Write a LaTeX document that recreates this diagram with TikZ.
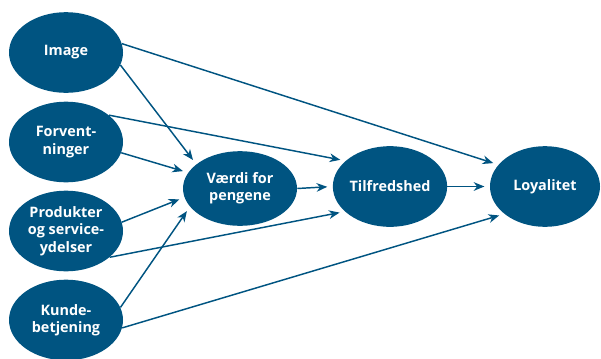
\documentclass[tikz,border=0pt]{standalone}
\usepackage{fontspec}
\setmainfont{Open Sans}
\usetikzlibrary{arrows.meta, shapes.geometric}
\definecolor{dkblue}{RGB}{0,84,129}

\begin{document}
\begin{tikzpicture}[x=0.75pt, y=-0.75pt,
    faktor/.style={ellipse, fill=dkblue, text=white, inner sep=0pt,
      minimum width=85.5pt, minimum height=60.5pt, align=center,
      font=\fontsize{10.8}{13}\selectfont\bfseries},
    pil/.style={draw=dkblue, line width=1.1pt, shorten >=4pt,
      -{Stealth[length=8pt, width=6.5pt, inset=2.5pt]}}]
      \useasboundingbox (0, 0) rectangle (601, 358);
      \node[faktor] (img) at (66, 52.5) {Image};
      \node[faktor] (forv) at (66, 142) {Forvent-\\ninger};
      \node[faktor] (prod) at (66, 231) {Produkter\\og service-\\ydelser};
      \node[faktor] (kunde) at (66, 320) {Kunde-\\betjening};
      \node[faktor, minimum height=56pt] (vfp) at (240, 188.5) {Værdi for\\pengene};
      \node[faktor] (tilf) at (390, 186.5) {Tilfredshed};
      \node[faktor, minimum width=82.5pt] (loy) at (545, 186.5) {Loyalitet};
      \draw[pil] (img.-13) -- (vfp.151);
      \draw[pil] (img.9.6) -- (loy.155);
      \draw[pil] (forv.32.7) -- (tilf.150.8);
      \draw[pil] (forv.-11.3) -- (vfp.163);
      \draw[pil] (prod.9.1) -- (vfp.189);
      \draw[pil] (prod.-31.8) -- (tilf.209.7);
      \draw[pil] (kunde.13.3) -- (vfp.200.4);
      \draw[pil] (kunde.-8) -- (loy.214);
      \draw[pil] (vfp.east) -- (tilf.west);
      \draw[pil] (tilf.east) -- (loy.west);
    \end{tikzpicture}
\end{document}
